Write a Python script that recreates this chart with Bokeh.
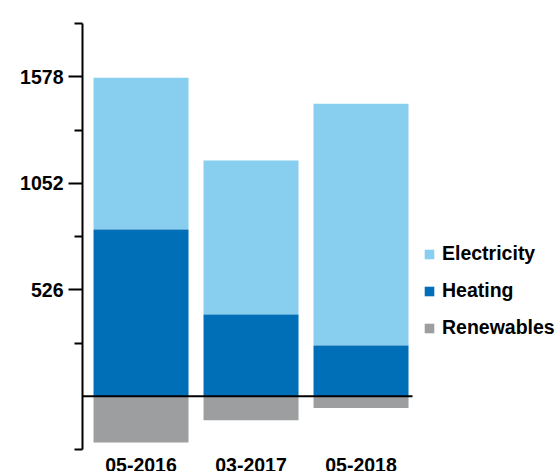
from bokeh.plotting import figure
from bokeh.models import Range1d, FixedTicker, Legend, LegendItem, LinearAxis
from bokeh.core.properties import value
from bokeh.embed import file_html
from bokeh.resources import INLINE

categories = ["05-2016", "03-2017", "05-2018"]
heating = [823, 404, 251]
electricity = [750, 760, 1194]
renewables = [-229, -118, -58]
major_ticks = [526, 1052, 1578]
minor_ticks = [-263, 263, 789, 1315, 1841]
axis_bounds = (-263, 1841)

C_ELEC = "#88CEEF"
C_HEAT = "#006FB7"
C_REN = "#9D9EA0"
FONT = "Liberation Sans"
FS = "19.5px"

W, H = 558, 471
LEFT = 82
AX_TOP, AX_BOT = 23, 449          # pixel rows of the axis ends
PX_PER_UNIT = (AX_BOT - AX_TOP) / (axis_bounds[1] - axis_bounds[0])
y_start = axis_bounds[0] - (H - AX_BOT) / PX_PER_UNIT
y_end = axis_bounds[1] + AX_TOP / PX_PER_UNIT
SLOT = 110.0
x_start = -0.532
x_end = x_start + (W - LEFT) / SLOT
bar_area_end = len(categories) - 1 + 0.468

x = list(range(len(categories)))
elec_bottom = heating
elec_top = [h + e for h, e in zip(heating, electricity)]
zeros = [0] * len(categories)

p = figure(width=W, height=H, output_backend="svg", toolbar_location=None,
           x_range=Range1d(x_start, x_end), y_range=Range1d(y_start, y_end),
           min_border_left=LEFT, min_border_right=0, min_border_top=0, min_border_bottom=0,
           x_axis_location=None, y_axis_location=None)
p.outline_line_color = None
p.xgrid.visible = False
p.ygrid.visible = False
p.background_fill_color = None
p.border_fill_color = "white"

w = 0.8636
r_e = p.vbar(x=x, top=elec_top, bottom=elec_bottom, width=w, fill_color=C_ELEC, line_color=None)
r_h = p.vbar(x=x, top=heating, bottom=zeros, width=w, fill_color=C_HEAT, line_color=None)
r_r = p.vbar(x=x, top=zeros, bottom=renewables, width=w, fill_color=C_REN, line_color=None)

# zero baseline across the bar area
p.segment(x0=[x_start], x1=[bar_area_end], y0=[0], y1=[0], line_color="black", line_width=2)

# category labels under the axis end
label_y = axis_bounds[0] - 8 / PX_PER_UNIT
p.text(x=x, y=[label_y] * len(x), text=categories, text_font=value(FONT),
       text_font_style="bold", text_font_size=FS, text_align="center",
       text_baseline="top", text_color="black")

yax = LinearAxis(ticker=FixedTicker(ticks=major_ticks, minor_ticks=minor_ticks), bounds=axis_bounds)
yax.axis_line_width = 2
yax.axis_line_color = "black"
yax.major_tick_line_width = 2
yax.minor_tick_line_width = 2
yax.major_tick_out = 14
yax.major_tick_in = 0
yax.minor_tick_out = 8
yax.minor_tick_in = 0
yax.major_label_standoff = 5
yax.major_label_text_font = FONT
yax.major_label_text_font_style = "bold"
yax.major_label_text_font_size = FS
yax.major_label_text_color = "black"
p.add_layout(yax, "left")

legend = Legend(items=[LegendItem(label="Electricity", renderers=[r_e]),
                       LegendItem(label="Heating", renderers=[r_h]),
                       LegendItem(label="Renewables", renderers=[r_r])],
                location=(341, 132))
legend.padding = 0
legend.margin = 0
legend.border_line_color = None
legend.background_fill_alpha = 0
legend.glyph_width = 12
legend.glyph_height = 12
legend.label_height = 22
legend.spacing = 14
legend.label_standoff = 7
legend.label_text_font = FONT
legend.label_text_font_style = "bold"
legend.label_text_font_size = FS
legend.label_text_color = "black"
p.add_layout(legend, "center")

open("out.html", "w").write(file_html(p, INLINE))
